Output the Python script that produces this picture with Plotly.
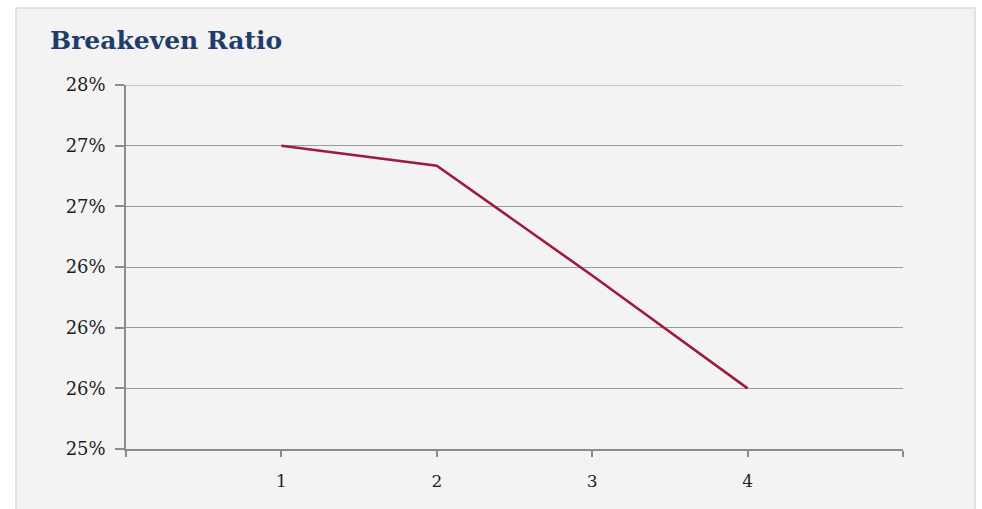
import plotly.graph_objects as go

# Breakeven ratio by period (percent)
periods = [1, 2, 3, 4]
breakeven_pct = [27.5, 27.335, 26.43, 25.5]

# Y axis ticks and their displayed labels
y_tick_vals = [25.0, 25.5, 26.0, 26.5, 27.0, 27.5, 28.0]
y_tick_text = ["25%", "26%", "26%", "26%", "27%", "27%", "28%"]

# X axis ticks (outer ticks unlabelled)
x_tick_vals = [0, 1, 2, 3, 4, 5]
x_tick_text = ["", "1", "2", "3", "4", ""]

W, H = 982, 509
L, R, T, B = 126, 79, 85, 60
pw, ph = W - L - R, H - T - B

GRID = "#9a9a9a"

def px_x(p):
    return (p - L) / pw

def px_y(p):
    return (H - B - p) / ph

fig = go.Figure()
fig.add_trace(go.Scatter(
    x=periods, y=breakeven_pct, mode="lines",
    line=dict(color="#9e1b3c", width=2.6),
    hoverinfo="x+y",
))

serif = "Georgia, 'DejaVu Serif', 'Liberation Serif', serif"

shapes = [dict(
    type="rect", xref="paper", yref="paper", layer="below",
    x0=px_x(16), x1=px_x(975), y0=px_y(540), y1=px_y(8),
    fillcolor="#f3f3f3", line=dict(color="#dcdcdc", width=1.5),
)]
# gridline on the top edge of the plot area
shapes.append(dict(
    type="line", xref="paper", yref="y", layer="below",
    x0=0, x1=1, y0=y_tick_vals[-1], y1=y_tick_vals[-1],
    line=dict(color=GRID, width=1.2),
))

fig.update_layout(
    width=W, height=H,
    margin=dict(l=L, r=R, t=T, b=B),
    paper_bgcolor="white",
    plot_bgcolor="rgba(0,0,0,0)",
    showlegend=False,
    font=dict(family=serif, size=17, color="#1e1e1e"),
    shapes=shapes,
    annotations=[dict(
        text="<b>Breakeven Ratio</b>", xref="paper", yref="paper",
        x=px_x(48), y=px_y(24), xanchor="left", yanchor="top",
        showarrow=False,
        font=dict(family="'DejaVu Serif', serif", size=25, color="#1f3d6b"),
    )],
    xaxis=dict(
        range=[0, 5], tickvals=x_tick_vals, ticktext=x_tick_text,
        showgrid=False, zeroline=False,
        showline=True, linecolor="#8c8c8c", linewidth=1.5,
        ticks="outside", ticklen=6, tickcolor="#8c8c8c", tickwidth=1.5,
        ticklabelstandoff=10,
        tickfont=dict(size=17), fixedrange=True,
    ),
    yaxis=dict(
        range=[25, 28], tickvals=y_tick_vals, ticktext=y_tick_text,
        showgrid=True, gridcolor=GRID, gridwidth=1.2, zeroline=False,
        showline=True, linecolor="#8c8c8c", linewidth=1.5,
        ticks="outside", ticklen=9, tickcolor="#8c8c8c", tickwidth=1.5,
        ticklabelstandoff=6,
        tickfont=dict(size=18), fixedrange=True,
    ),
)

fig.write_html("out.html")
